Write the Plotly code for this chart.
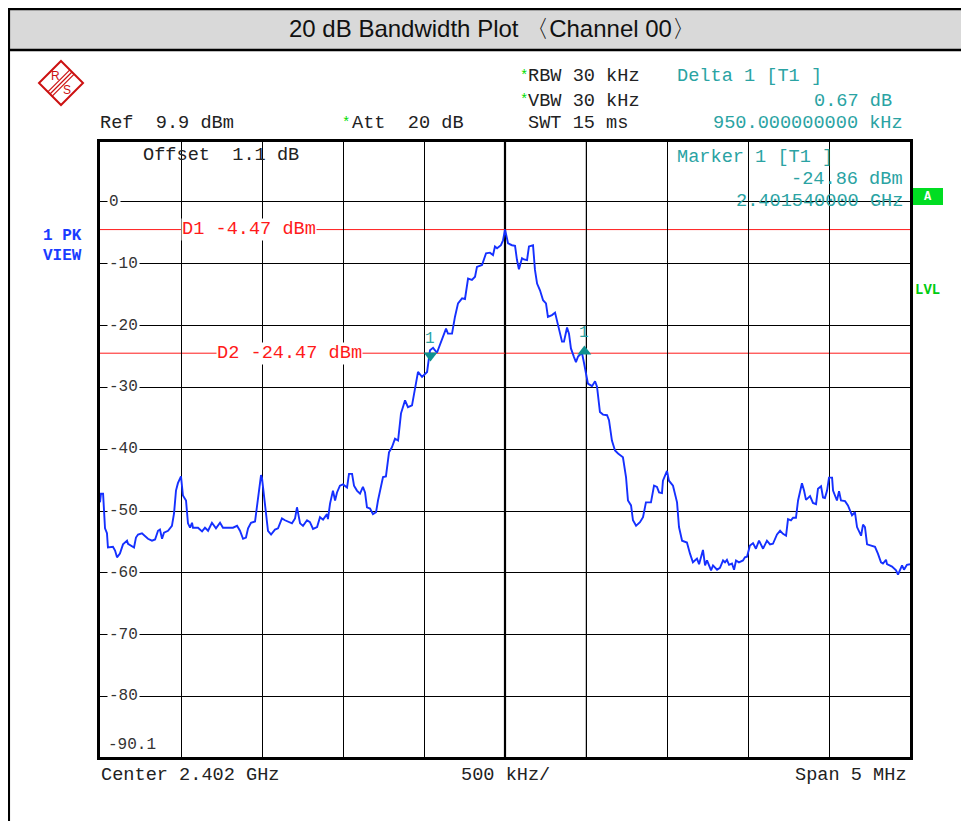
import plotly.graph_objects as go

# ---------------- data ----------------
freq_mhz = [
    2399.500, 2399.506, 2399.519, 2399.525, 2399.531, 2399.543, 2399.549, 2399.580, 2399.593, 2399.605,
    2399.623, 2399.642, 2399.667, 2399.673, 2399.698, 2399.710, 2399.722, 2399.735, 2399.759, 2399.778,
    2399.796, 2399.821, 2399.840, 2399.858, 2399.870, 2399.883, 2399.895, 2399.920, 2399.944, 2399.957,
    2399.969, 2399.981, 2400.000, 2400.012, 2400.031, 2400.043, 2400.056, 2400.068, 2400.074, 2400.105,
    2400.130, 2400.148, 2400.167, 2400.191, 2400.216, 2400.241, 2400.259, 2400.290, 2400.321, 2400.346,
    2400.364, 2400.383, 2400.401, 2400.414, 2400.432, 2400.457, 2400.475, 2400.494, 2400.500, 2400.519,
    2400.537, 2400.556, 2400.580, 2400.599, 2400.623, 2400.642, 2400.660, 2400.685, 2400.704, 2400.716,
    2400.735, 2400.753, 2400.778, 2400.796, 2400.815, 2400.840, 2400.858, 2400.877, 2400.901, 2400.907,
    2400.920, 2400.938, 2400.951, 2400.963, 2400.981, 2401.000, 2401.025, 2401.037, 2401.056, 2401.068,
    2401.086, 2401.105, 2401.123, 2401.136, 2401.148, 2401.167, 2401.185, 2401.204, 2401.216, 2401.241,
    2401.247, 2401.265, 2401.284, 2401.302, 2401.321, 2401.340, 2401.358, 2401.383, 2401.401, 2401.426,
    2401.444, 2401.463, 2401.488, 2401.519, 2401.537, 2401.556, 2401.580, 2401.611, 2401.636, 2401.648,
    2401.673, 2401.691, 2401.710, 2401.735, 2401.753, 2401.772, 2401.796, 2401.815, 2401.827, 2401.858,
    2401.883, 2401.907, 2401.926, 2401.938, 2401.951, 2401.975, 2401.988, 2402.000, 2402.019, 2402.043,
    2402.062, 2402.074, 2402.086, 2402.105, 2402.117, 2402.136, 2402.148, 2402.173, 2402.185, 2402.198,
    2402.216, 2402.235, 2402.253, 2402.265, 2402.290, 2402.309, 2402.327, 2402.352, 2402.364, 2402.383,
    2402.395, 2402.407, 2402.426, 2402.438, 2402.451, 2402.475, 2402.488, 2402.500, 2402.512, 2402.537,
    2402.556, 2402.568, 2402.586, 2402.605, 2402.630, 2402.642, 2402.660, 2402.679, 2402.698, 2402.728,
    2402.747, 2402.759, 2402.778, 2402.790, 2402.809, 2402.833, 2402.852, 2402.870, 2402.901, 2402.920,
    2402.938, 2402.951, 2402.969, 2402.975, 2403.000, 2403.012, 2403.037, 2403.062, 2403.074, 2403.093,
    2403.123, 2403.142, 2403.160, 2403.185, 2403.198, 2403.222, 2403.235, 2403.247, 2403.259, 2403.272,
    2403.284, 2403.309, 2403.327, 2403.346, 2403.358, 2403.370, 2403.383, 2403.401, 2403.414, 2403.426,
    2403.444, 2403.469, 2403.481, 2403.494, 2403.512, 2403.531, 2403.549, 2403.568, 2403.593, 2403.617,
    2403.636, 2403.654, 2403.679, 2403.698, 2403.716, 2403.735, 2403.747, 2403.765, 2403.778, 2403.796,
    2403.809, 2403.833, 2403.846, 2403.858, 2403.883, 2403.901, 2403.920, 2403.932, 2403.951, 2403.963,
    2403.975, 2403.988, 2404.000, 2404.019, 2404.025, 2404.049, 2404.062, 2404.074, 2404.099, 2404.117,
    2404.142, 2404.160, 2404.173, 2404.198, 2404.210, 2404.222, 2404.235, 2404.259, 2404.284, 2404.302,
    2404.321, 2404.333, 2404.352, 2404.358, 2404.389, 2404.414, 2404.426, 2404.451, 2404.463, 2404.481,
    2404.500,
]
level_dbm = [
    -48.6, -47.2, -47.2, -50.2, -52.8, -53.6, -55.9, -55.8, -56.4, -57.5,
    -56.9, -55.4, -54.8, -55.3, -55.8, -55.9, -54.3, -53.8, -53.6, -54.0,
    -54.5, -54.8, -54.6, -53.2, -53.0, -54.5, -53.5, -53.2, -52.4, -50.4,
    -46.7, -45.5, -44.4, -47.5, -48.3, -52.0, -52.7, -51.9, -52.7, -52.7,
    -53.3, -52.7, -53.2, -51.9, -52.8, -51.9, -52.7, -52.7, -52.7, -52.4,
    -53.2, -54.5, -54.3, -52.8, -51.9, -51.7, -47.8, -44.2, -44.7, -48.8,
    -53.2, -53.8, -53.0, -52.8, -51.2, -51.5, -51.7, -52.0, -51.2, -49.4,
    -52.0, -52.4, -51.5, -51.8, -52.9, -52.6, -51.0, -51.4, -50.5, -51.3,
    -48.8, -46.7, -48.3, -47.0, -45.9, -45.7, -46.2, -44.0, -44.0, -45.9,
    -46.7, -47.2, -46.1, -47.0, -49.4, -49.6, -50.5, -50.2, -48.3, -45.3,
    -44.5, -44.4, -40.5, -39.7, -38.3, -38.6, -34.2, -32.1, -33.2, -32.9,
    -29.9, -27.5, -28.3, -27.5, -24.0, -23.6, -24.4, -22.4, -20.5, -21.3,
    -21.3, -18.6, -16.4, -15.6, -15.7, -12.4, -12.6, -12.1, -10.5, -10.2,
    -8.3, -8.2, -8.6, -7.2, -7.5, -7.0, -6.2, -4.47, -6.7, -7.0,
    -7.1, -9.4, -10.9, -9.1, -9.3, -9.4, -7.2, -7.0, -11.0, -13.2,
    -14.3, -15.9, -16.4, -18.6, -18.3, -17.9, -19.7, -22.6, -22.6, -20.3,
    -21.3, -23.7, -25.1, -25.9, -25.0, -24.4, -26.1, -28.0, -29.4, -29.8,
    -29.0, -29.9, -34.0, -34.4, -34.5, -35.3, -38.6, -40.2, -40.7, -41.3,
    -44.5, -48.3, -49.1, -51.5, -52.4, -51.8, -51.0, -48.6, -48.6, -45.9,
    -46.1, -47.0, -47.1, -45.1, -43.5, -45.1, -45.9, -48.6, -52.6, -54.8,
    -55.1, -56.9, -58.3, -57.7, -58.6, -56.3, -58.8, -58.0, -58.8, -59.6,
    -58.8, -59.5, -59.2, -58.0, -58.3, -57.9, -58.7, -58.5, -59.5, -58.0,
    -58.3, -58.0, -57.5, -57.4, -55.6, -55.2, -56.1, -54.8, -56.1, -54.8,
    -55.4, -55.3, -53.8, -53.2, -53.7, -54.0, -51.3, -51.5, -51.1, -51.1,
    -48.3, -45.5, -46.7, -48.2, -47.6, -48.7, -48.9, -46.4, -46.0, -47.8,
    -47.9, -46.7, -44.6, -44.6, -46.7, -48.3, -46.8, -48.3, -48.4, -49.1,
    -50.7, -50.2, -52.6, -54.0, -52.2, -52.6, -55.4, -55.6, -55.8, -56.9,
    -58.3, -58.5, -57.9, -58.6, -59.0, -59.6, -60.3, -58.8, -59.5, -58.7,
    -58.6,
]
assert len(freq_mhz) == len(level_dbm)

y_tick_values = [0, -10, -20, -30, -40, -50, -60, -70, -80]
y_tick_labels = ["0", "-10", "-20", "-30", "-40", "-50", "-60", "-70", "-80"]
y_bottom_label = "-90.1"

display_lines = [("D1 -4.47 dBm", -4.47), ("D2 -24.47 dBm", -24.47)]
marker1 = (2401.540, -24.86)                 # Marker 1 [T1]
delta1 = (2401.540 + 0.950, -24.86 + 0.67)   # Delta 1 [T1]

title_text = "20 dB Bandwidth Plot 〈Channel 00〉"

# ---------------- layout helpers ----------------
# the page body has an 8px margin, so the figure starts at page (8, 8)
OFF = 8
W, H = 969 - OFF, 821 - OFF
PL, PR, PT, PB = 100, 910, 142, 757          # plot frame in page pixels
ML, MR, MT, MB = PL - OFF, W - (PR - OFF), PT - OFF, H - (PB - OFF)
PW, PH = PR - PL, PB - PT
MONO = "Liberation Mono, Courier New, monospace"
FS = 18.6
TEAL = "#2aa3a3"
GREEN = "#00dd00"
RED = "#ff1a1a"


def X(px):
    return (px - PL) / PW


def Y(py):
    return (PB - py) / PH


annotations = []
shapes = []


def txt(text, px, py, color="#222", size=FS, anchor="left", bold=False,
        family=MONO, bg=None, vanchor="middle"):
    a = dict(xref="paper", yref="paper", x=X(px), y=Y(py), text=text,
             showarrow=False, xanchor=anchor, yanchor=vanchor,
             font=dict(family=family, size=size, color=color,
                       weight="bold" if bold else "normal"),
             borderpad=0)
    if bg:
        a["bgcolor"] = bg
    annotations.append(a)


fig = go.Figure()
fig.add_trace(go.Scatter(x=freq_mhz, y=level_dbm, mode="lines",
                         line=dict(color="#1530ff", width=1.9),
                         hoverinfo="skip", showlegend=False))
fig.add_trace(go.Scatter(x=[marker1[0]], y=[marker1[1]], mode="markers",
                         marker=dict(symbol="triangle-down", size=12, color="#0f9090"),
                         showlegend=False, hoverinfo="skip"))
fig.add_trace(go.Scatter(x=[delta1[0]], y=[delta1[1]], mode="markers",
                         marker=dict(symbol="triangle-up", size=12, color="#0f9090"),
                         showlegend=False, hoverinfo="skip"))

# header band & outer frame
shapes.append(dict(type="rect", xref="paper", yref="paper", x0=X(8.8), x1=X(990),
                   y0=Y(50), y1=Y(9), fillcolor="#d9d9d9",
                   line=dict(color="black", width=2.5), layer="below"))
shapes.append(dict(type="line", xref="paper", yref="paper", x0=X(8.8), x1=X(8.8),
                   y0=Y(9), y1=Y(840), line=dict(color="black", width=2.5)))
txt(title_text, 492, 29, color="#111", size=24,
    family="Liberation Sans Narrow, Liberation Sans, Arial, sans-serif", anchor="center")

# R&S logo
cx, cy, r = 61, 83, 22
shapes.append(dict(type="path", xref="paper", yref="paper",
                   path=f"M {X(cx)},{Y(cy - r)} L {X(cx + r)},{Y(cy)} L {X(cx)},{Y(cy + r)} L {X(cx - r)},{Y(cy)} Z",
                   line=dict(color="#cc1111", width=2)))
for d in (-2.2, 0, 2.2):
    shapes.append(dict(type="line", xref="paper", yref="paper",
                       x0=X(cx + r / 2 + d), y0=Y(cy - r / 2 + d),
                       x1=X(cx - r / 2 + d), y1=Y(cy + r / 2 + d),
                       line=dict(color="#cc1111", width=1.2)))
txt("R", 55, 76, color="#cc1111", size=12, family="Liberation Sans", anchor="center")
txt("S", 67, 90, color="#cc1111", size=12, family="Liberation Sans", anchor="center")

# header texts
txt("*", 519, 76, color=GREEN, size=14)
txt("RBW 30 kHz", 527, 77)
txt("*", 519, 100, color=GREEN, size=14)
txt("VBW 30 kHz", 527, 101)
txt("Ref  9.9 dBm", 99, 124)
txt("*", 341, 123, color=GREEN, size=14)
txt("Att  20 dB", 351, 124)
txt("SWT 15 ms", 527, 124)
txt("Delta 1 [T1 ]", 676, 77, color=TEAL)
txt("0.67 dB", 893, 101, color=TEAL, anchor="right")
txt("950.000000000 kHz", 904, 124, color=TEAL, anchor="right")

# inside plot texts
txt("Offset  1.1 dB", 142, 155)
txt("Marker 1 [T1 ]", 676, 157, color=TEAL)
txt("-24.86 dBm", 904, 179, color=TEAL, anchor="right")
txt("2.401540000 GHz", 904, 201, color=TEAL, anchor="right")

# left side labels
txt("1 PK", 42, 236, color="#1a3cff", size=16, bold=True)
txt("VIEW", 42, 256, color="#1a3cff", size=16, bold=True)

# right side
shapes.append(dict(type="rect", xref="paper", yref="paper", x0=X(913), x1=X(943),
                   y0=Y(205), y1=Y(188), fillcolor="#00dd22", line=dict(width=0)))
txt("A", 928, 196.5, color="white", size=12, bold=True, anchor="center")
txt("LVL", 914, 290, color="#00cc11", size=14, bold=True)

# bottom labels
txt("Center 2.402 GHz", 100, 775)
txt("500 kHz/", 505, 775, anchor="center")
txt("Span 5 MHz", 908, 775, anchor="right")

# y tick labels inside the grid
for v, lab in zip(y_tick_values, y_tick_labels):
    annotations.append(dict(xref="paper", yref="y", x=X(107), y=v, text=lab,
                            showarrow=False, xanchor="left", yanchor="middle",
                            font=dict(family=MONO, size=16, color="#333"),
                            bgcolor="white", borderpad=1))
txt(y_bottom_label, 107, 745, color="#333", size=16)

# special grid lines
shapes.append(dict(type="line", xref="x", yref="paper", x0=2402.0, x1=2402.0, y0=0, y1=1,
                   line=dict(color="black", width=2.2), layer="between"))
shapes.append(dict(type="line", xref="x", yref="paper", x0=2402.5, x1=2402.5, y0=0, y1=1,
                   line=dict(color="white", width=2), layer="between"))
shapes.append(dict(type="line", xref="x", yref="paper", x0=2402.5, x1=2402.5, y0=0, y1=1,
                   line=dict(color="#808080", width=1), layer="between"))

# display lines
for lab, v in display_lines:
    shapes.append(dict(type="line", xref="paper", yref="y", x0=0, x1=1, y0=v, y1=v,
                       line=dict(color=RED, width=1), layer="between"))
for (lab, v), start in zip(display_lines, (181, 216)):
    annotations.append(dict(xref="paper", yref="y", x=X(start), y=v,
                            text=lab, showarrow=False, xanchor="left",
                            yanchor="middle", font=dict(family=MONO, size=FS, color=RED),
                            bgcolor="white", borderpad=0))

# marker labels
for (mx, my), ys in ((marker1, 17), (delta1, 18)):
    annotations.append(dict(xref="x", yref="y", x=mx, y=my, text="1", showarrow=False,
                            yshift=ys, font=dict(family=MONO, size=16, color=TEAL)))

fig.update_layout(
    width=W, height=H,
    margin=dict(l=ML, r=MR, t=MT, b=MB),
    paper_bgcolor="white", plot_bgcolor="white",
    showlegend=False,
    xaxis=dict(range=[2399.5, 2404.5], tick0=2399.5, dtick=0.5, showgrid=True,
               gridcolor="black", gridwidth=1, showticklabels=False, ticks="",
               zeroline=False, showline=True, mirror=True, linecolor="black",
               linewidth=3, fixedrange=True),
    yaxis=dict(range=[-89.8, 9.7], tick0=0, dtick=10, showgrid=True,
               gridcolor="black", gridwidth=1, showticklabels=False, ticks="",
               zeroline=False, showline=True, mirror=True, linecolor="black",
               linewidth=3, fixedrange=True),
    annotations=annotations,
    shapes=shapes,
)

fig.write_html("out.html")
